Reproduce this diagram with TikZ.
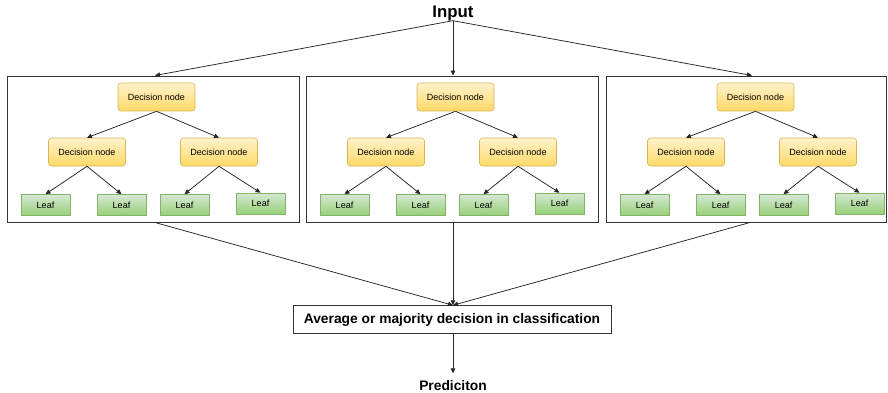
\documentclass[tikz,border=0pt]{standalone}
\usepackage{fontspec}
\setmainfont{Liberation Sans}
\usetikzlibrary{arrows.meta}
\definecolor{dntop}{HTML}{FFF2CC}
\definecolor{dnbot}{HTML}{FFD966}
\definecolor{dnborder}{HTML}{D6B656}
\definecolor{lftop}{HTML}{D5E8D4}
\definecolor{lfbot}{HTML}{97D077}
\definecolor{lfborder}{HTML}{82B366}
\begin{document}
\begin{tikzpicture}[x=1pt,y=-1pt,
 dnode/.style={draw=dnborder, line width=0.6pt, rounded corners=3pt, top color=dntop, bottom color=dnbot, minimum width=77pt, minimum height=28pt, inner sep=0pt, font=\fontsize{9}{10}\selectfont},
 leafbox/.style={draw=lfborder, line width=0.6pt, top color=lftop, bottom color=lfbot, minimum width=49pt, minimum height=21pt, inner sep=0pt, font=\fontsize{9}{10}\selectfont},
 panel/.style={draw=black!80, line width=1pt, inner sep=0pt},
 arr/.style={draw=black!85, line width=0.75pt, -{Triangle[length=5pt,width=4.5pt]}},
 bigtext/.style={font=\bfseries\fontsize{13.8}{16}\selectfont}
]
\useasboundingbox (0,0) rectangle (888,392);
\fill[white] (0,0) rectangle (888,392);

% input
\node[anchor=base, inner sep=0pt, font=\bfseries\fontsize{16.8}{20}\selectfont] (in) at (453,17) {Input};

% panels
\node[panel, minimum width=292pt, minimum height=146pt] (p1) at (153,149) {};
\node[panel, minimum width=292pt, minimum height=146pt] (p2) at (452,149) {};
\node[panel, minimum width=280pt, minimum height=146pt] (p3) at (746,149) {};

% trees
\foreach \i/\dx in {1/0,2/299,3/599}{
  \begin{scope}[xshift=\dx pt]
    \node[dnode] (t\i) at (156.5,97) {Decision node};
    \node[dnode] (a\i) at (87,152) {Decision node};
    \node[dnode] (b\i) at (219,152) {Decision node};
    \node[leafbox] (la\i) at (45.5,205) {Leaf};
    \node[leafbox] (lb\i) at (121.5,205) {Leaf};
    \node[leafbox] (lc\i) at (184.5,205) {Leaf};
    \node[leafbox] (ld\i) at (260.5,203.5) {Leaf};
    \draw[arr] (t\i.south) -- (a\i.north);
    \draw[arr] (t\i.south) -- (b\i.north);
    \draw[arr] (a\i.south) -- (la\i.north);
    \draw[arr] (a\i.south) -- (lb\i.north);
    \draw[arr] (b\i.south) -- (lc\i.north);
    \draw[arr] (b\i.south) -- (ld\i.north);
  \end{scope}
}

% aggregation
\node[draw=black!80, line width=1pt, minimum width=318pt, minimum height=27.5pt, inner sep=0pt, bigtext] (avg) at (452,319.5) {Average or majority decision in classification};
\node[anchor=base, inner sep=0pt, inner ysep=6.5pt, bigtext] (pred) at (453,390) {Prediciton};

\draw[arr] (in.south) -- ([xshift=2pt]p1.north);
\draw[arr] (in.south) -- ([xshift=1pt]p2.north);
\draw[arr] (in.south) -- ([xshift=6pt]p3.north);

\draw[arr] ([xshift=2pt]p1.south) -- ([xshift=1pt]avg.north);
\draw[arr] ([xshift=1pt]p2.south) -- ([xshift=1pt]avg.north);
\draw[arr] ([xshift=4pt]p3.south) -- ([xshift=1pt]avg.north);
\draw[arr] ([xshift=1pt]avg.south) -- (pred.north);
\end{tikzpicture}
\end{document}
